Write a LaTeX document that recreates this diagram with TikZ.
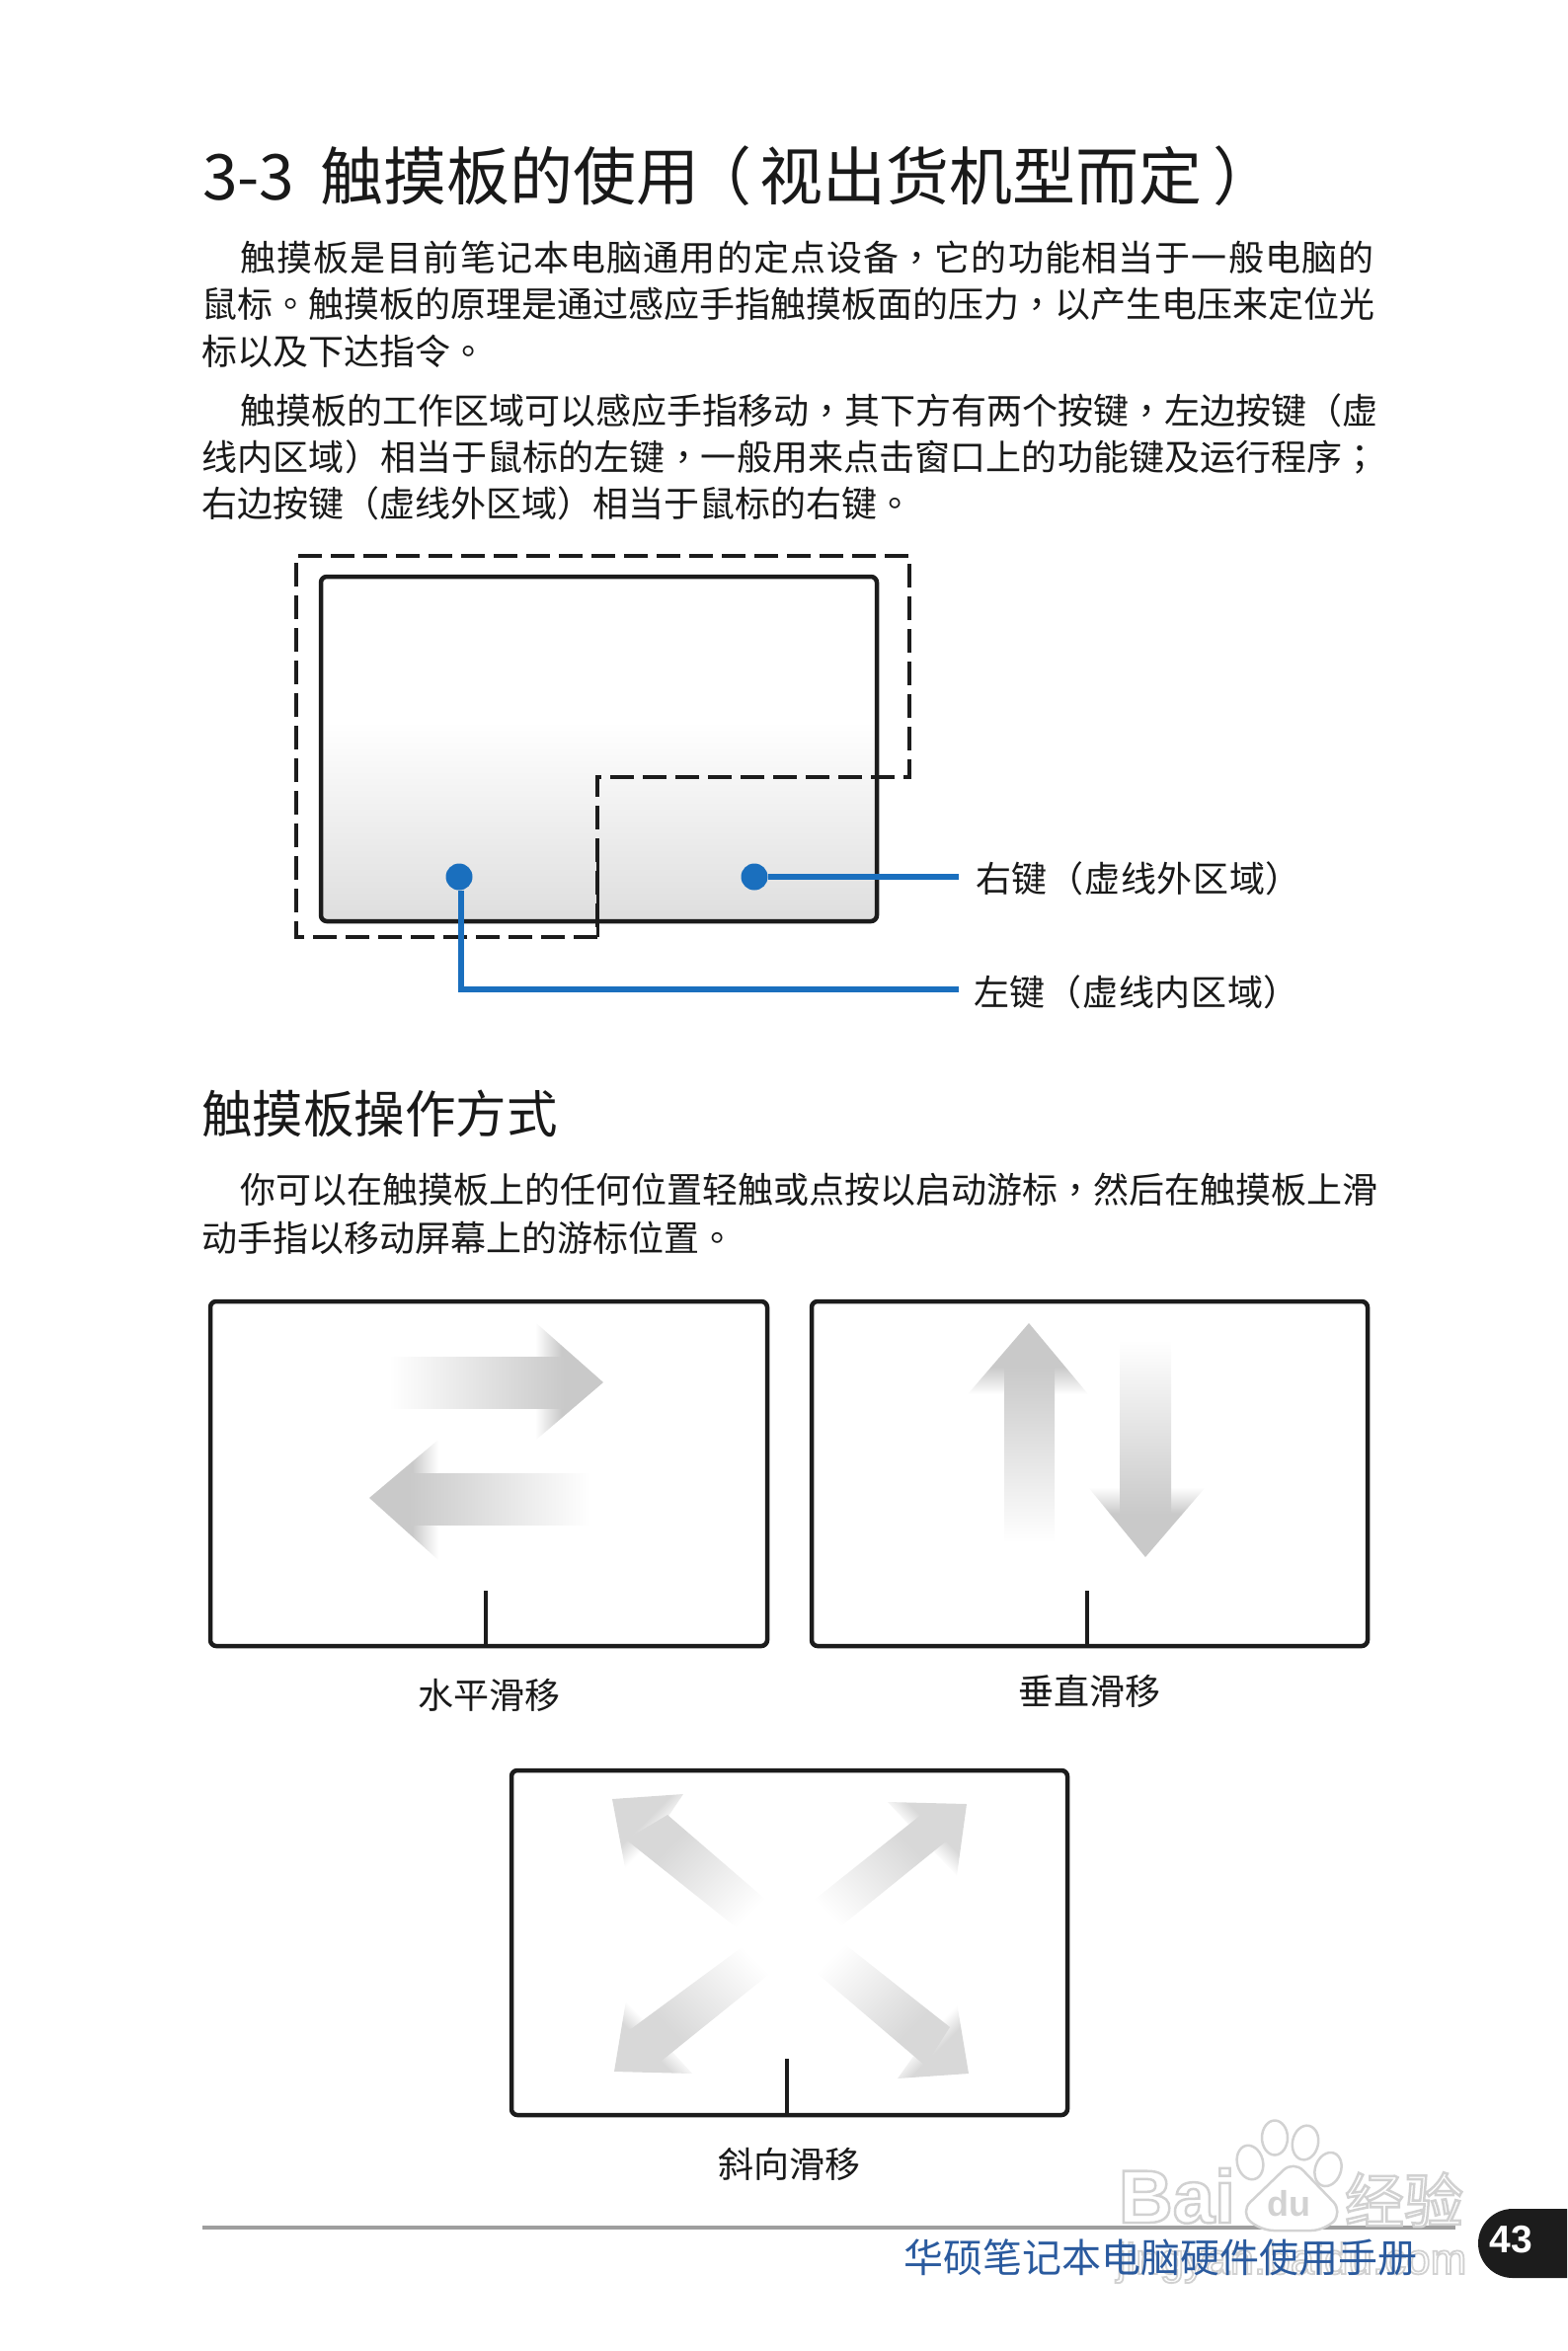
\documentclass[tikz,border=0pt]{standalone}
\usepackage{fontspec}
\setmainfont{Noto Sans CJK SC}
\setsansfont{Liberation Sans}
\newfontfamily\tcfont{Noto Sans CJK TC}
\newcommand{\tcp}[1]{{\tcfont #1}}
% hollow letters of the watermark
\newcommand{\hollow}[2]{\special{pdf:code 2 Tr #1 w 0.82 G}#2\special{pdf:code 0 Tr 1 w}}
\usepackage{tikz}
\usetikzlibrary{shapes.geometric}
\definecolor{keyblue}{HTML}{1A6FBE}
\definecolor{footblue}{HTML}{2A5A9E}
\definecolor{padblack}{HTML}{1C1C1C}
\definecolor{arrowgray}{HTML}{C9C9C9}
\definecolor{crossgray}{HTML}{D8D8D8}
\definecolor{markgray}{HTML}{D2D2D2}
\pgfdeclareverticalshading{padfade}{100bp}{color(0bp)=(black!13); color(25bp)=(black!13); color(54bp)=(white); color(100bp)=(white)}
\pgfdeclarehorizontalshading{shaftfade}{100bp}{color(0bp)=(white); color(25bp)=(white); color(75bp)=(arrowgray); color(100bp)=(arrowgray)}
\pgfdeclarehorizontalshading{headfade}{100bp}{color(0bp)=(white); color(25bp)=(white); color(44bp)=(arrowgray); color(100bp)=(arrowgray)}
\pgfdeclarehorizontalshading{crossshaft}{100bp}{color(0bp)=(white); color(27bp)=(white); color(66bp)=(crossgray); color(100bp)=(crossgray)}
\pgfdeclarehorizontalshading{crosshead}{100bp}{color(0bp)=(white); color(46bp)=(white); color(58bp)=(crossgray); color(100bp)=(crossgray)}
\tikzset{
  bodytext/.style={anchor=base west, inner sep=0pt, text=black!90, font=\fontsize{36}{40}\selectfont},
  headtext/.style={anchor=base west, inner sep=0pt, text=black!90, font=\fontsize{51.5}{56}\selectfont},
  capttext/.style={anchor=base, inner sep=0pt, text=black!90, font=\fontsize{36}{40}\selectfont},
  keylabel/.style={anchor=west, inner ysep=0pt, inner xsep=17pt, text=black!90, text height=32pt, text depth=4pt, font=\fontsize{36}{40}\selectfont\addfontfeature{LetterSpace=2}},
  keydot/.style={circle, fill=keyblue, minimum size=27pt, inner sep=0pt},
  keyline/.style={draw=keyblue, line width=5.5pt},
  padframe/.style={draw=padblack, line width=4.5pt, rounded corners=6pt},
  padsplit/.style={draw=padblack, line width=3.5pt},
  markline/.style={draw=padblack, line width=3.4pt, dash pattern=on 24pt off 9pt},
  marktext/.style={anchor=base, inner sep=0pt, text=white},
  pawtoe/.style={ellipse, draw=markgray, fill=white, line width=2.5pt, inner sep=0pt},
}
\begin{document}
\begin{tikzpicture}[x=1pt, y=-1pt]
\useasboundingbox (0,0) rectangle (1587,2381);

% title and first paragraphs
\node[anchor=base west, inner sep=0pt, text=black!90, font=\fontsize{64}{70}\selectfont] (title) at (205,203)
  {3-3\hspace{26pt}触摸板的使用\hspace{-11pt}（\hspace{8pt}视出货机型而定\hspace{11pt}）};
\node[bodytext] (lineA) at (243,275) {\addfontfeature{LetterSpace=3.2}触摸板是目前笔记本电脑通用的定点设备\tcp{，}它的功能相当于一般电脑的};
\node[bodytext] (lineB) at (204.5,322) {鼠标\tcp{。}触摸板的原理是通过感应手指触摸板面的压力\tcp{，}以产生电压来定位光};
\node[bodytext] (lineC) at (204.5,369) {标以及下达指令\tcp{。}};
\node[bodytext] (lineD) at (243,429) {触摸板的工作区域可以感应手指移动\tcp{，}其下方有两个按键\tcp{，}左边按键（虚};
\node[bodytext] (lineE) at (204.5,476.5) {\addfontfeature{LetterSpace=.3}线内区域）相当于鼠标的左键\tcp{，}一般用来点击窗口上的功能键及运行程序\tcp{；}};
\node[bodytext] (lineF) at (204.5,523.5) {右边按键（虚线外区域）相当于鼠标的右键\tcp{。}};

% touchpad with its two keys
\draw[padframe, shade, shading=padfade] (325,584) rectangle (888,933);
\draw[markline] (605,949) -- (300,949) -- (300,563) -- (921,563) -- (921,787) -- (605,787) -- cycle;
\draw[padsplit, line width=3pt] (605,858) -- (605,949);
\node[keydot] (dotL) at (465,888) {};
\node[keydot] (dotR) at (764,888) {};
\node[keylabel] (lblR) at (971,889) {右键（虚线外区域）};
\node[keylabel, inner xsep=15pt, text height=36pt] (lblL) at (971,1002) {左键（虚线内区域）};
\draw[keyline] (dotR) -- (dotR -| lblR.west);
\draw[keyline] ([xshift=2pt]dotL.south) |- (lblL.west);

% second section
\node[headtext] (subtitle) at (204,1147) {触摸板操作方式};
\node[bodytext] (lineG) at (243,1218) {你可以在触摸板上的任何位置轻触或点按以启动游标\tcp{，}然后在触摸板上滑};
\node[bodytext] (lineH) at (204.5,1267) {动手指以移动屏幕上的游标位置\tcp{。}};

% horizontal slide
\draw[padframe] (213,1318) rectangle (777,1667);
\draw[padsplit] (492,1611) -- (492,1667);
\shade[shading=headfade, shading angle=0] (542,1339) -- (611,1400) -- (542,1459) -- cycle;
\shade[shading=shaftfade, shading angle=0] (394,1374) rectangle (572,1426);
\shade[shading=headfade, shading angle=180] (444,1458) -- (374,1517) -- (444,1580) -- cycle;
\shade[shading=shaftfade, shading angle=180] (598,1492) rectangle (414,1544);
\node[capttext] (captH) at (495,1730) {水平滑移};

% vertical slide
\draw[padframe] (822,1318) rectangle (1385,1667);
\draw[padsplit] (1101,1611) -- (1101,1667);
\shade[shading=headfade, shading angle=90] (980,1412) -- (1042,1340) -- (1102,1412) -- cycle;
\shade[shading=shaftfade, shading angle=90] (1017,1562) rectangle (1068,1384);
\shade[shading=headfade, shading angle=270] (1102,1506) -- (1160,1577) -- (1221,1506) -- cycle;
\shade[shading=shaftfade, shading angle=270] (1134,1357) rectangle (1186,1534);
\node[capttext] (captV) at (1103,1726) {垂直滑移};

% diagonal slide
\draw[padframe] (518,1793) rectangle (1081,2142);
\draw[padsplit] (797,2085) -- (797,2142);
\shade[shading=crosshead, shading angle=135] (620,1822) -- (692,1817) -- (635,1902) -- cycle;
\shade[shading=crossshaft, shading angle=135] (676,1838) -- (785,1932) -- (758,1962) -- (634,1863) -- cycle;
\shade[shading=crosshead, shading angle=45] (979,1827) -- (899,1825) -- (969,1900) -- cycle;
\shade[shading=crossshaft, shading angle=45] (939,1833) -- (812,1934) -- (838,1962) -- (964,1860) -- cycle;
\shade[shading=crosshead, shading angle=225] (622,2098) -- (701,2100) -- (634,2026) -- cycle;
\shade[shading=crossshaft, shading angle=225] (632,2060) -- (765,1962) -- (793,1988) -- (670,2087) -- cycle;
\shade[shading=crosshead, shading angle=315] (981,2100) -- (909,2105) -- (968,2022) -- cycle;
\shade[shading=crossshaft, shading angle=315] (962,2053) -- (843,1959) -- (815,1988) -- (937,2092) -- cycle;
\node[capttext] (captD) at (799,2205) {斜向滑移};

% footer
\draw[draw=black!38, line width=3.5pt] (205,2256) -- (1474,2256);
\node[marktext, font=\sffamily\fontsize{44}{48}\selectfont] (markurl) at (1308,2303) {\hollow{1.8}{jingyan.baidu.com}};
\node[anchor=base west, inner sep=0pt, text=footblue, font=\fontsize{40}{44}\selectfont] (manual) at (915,2301) {华硕笔记本电脑硬件使用手册};
\fill[padblack] (1587,2237) [rounded corners=35pt] -- (1497,2237) -- (1497,2307) [sharp corners] -- (1587,2307) -- cycle;
\node[anchor=center, inner sep=0pt, text=white, font=\sffamily\bfseries\fontsize{39}{42}\selectfont] (pagenum) at (1530,2268) {43};

% watermark
\node[marktext, font=\sffamily\bfseries\fontsize{76}{80}\selectfont] (markbai) at (1192,2251) {\hollow{2.5}{Bai}};
\foreach \px/\py/\pa/\pname in {1291/2165/0/pawA, 1322/2170/-12/pawB, 1266/2190/15/pawC, 1345/2197/-20/pawD}
  \node[pawtoe, minimum width=26pt, minimum height=35pt, rotate=\pa] (\pname) at (\px,\py) {};
\filldraw[draw=markgray, fill=white, line width=2.5pt, rounded corners=14pt] (1310,2188) -- (1360,2240) -- (1342,2259) -- (1276,2259) -- (1256,2240) -- cycle;
\node[anchor=base, inner sep=0pt, text=markgray, font=\sffamily\bfseries\fontsize{36}{40}\selectfont] (markdu) at (1305,2244) {du};
\node[marktext, font=\fontsize{60}{64}\selectfont] (markjy) at (1422,2251) {\hollow{2.5}{经验}};

\end{tikzpicture}
\end{document}
